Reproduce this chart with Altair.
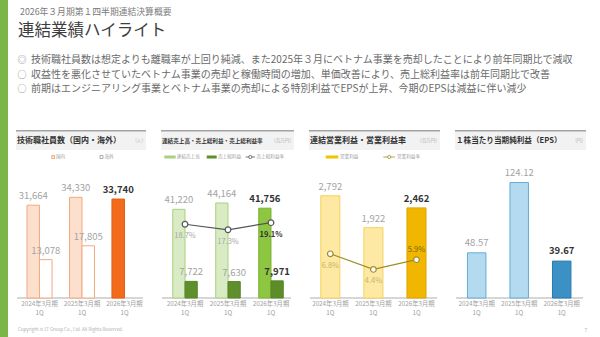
import altair as alt
import pandas as pd

FONT = "Noto Sans CJK JP"

# ---------------- data ----------------
years = ["2024年3月期\n1Q", "2025年3月期\n1Q", "2026年3月期\n1Q"]
periods = ["past", "past", "cur"]
domestic = [31664, 34330, 33740]
overseas = [13078, 17805, None]
sales = [41220, 44164, 41756]
gross_profit = [7722, 7630, 7971]
gross_margin = [18.7, 17.3, 19.1]
op_income = [2792, 1922, 2462]
op_margin = [6.8, 4.4, 5.9]
eps = [48.57, 124.12, 39.67]

header_sub = "2026年３月期第１四半期連結決算概要"
header_title = "連結業績ハイライト"
bullet_marks = ["◎", "○", "○"]
bullet_texts = [
    "技術職社員数は想定よりも離職率が上回り純減、また2025年３月にベトナム事業を売却したことにより前年同期比で減収",
    "収益性を悪化させていたベトナム事業の売却と稼働時間の増加、単価改善により、売上総利益率は前年同期比で改善",
    "前期はエンジニアリング事業とベトナム事業の売却による特別利益でEPSが上昇、今期のEPSは減益に伴い減少",
]
panel_titles = ["技術職社員数（国内・海外）", "連結売上高・売上総利益・売上総利益率",
                "連結営業利益・営業利益率", "１株当たり当期純利益（EPS）"]
panel_units = ["(人)", "(百万円)", "(百万円)", "(円)"]
seg1 = ["国内", "海外"]
seg2 = ["連結売上高", "売上総利益"]
line2_name = "売上総利益率"
seg3 = "営業利益"
line3_name = "営業利益率"
copyright_text = "Copyright © LT Group Co., Ltd. All Rights Reserved."
page_no = "7"

# ---------------- layout ----------------
H = 168
W = [130, 133, 131, 131]
X_RANGES = [(11, 121, 0.41), (11.75, 122.25, 0.43), (11.8, 117.0, 0.558), (12.45, 115.95, 0.565)]
TITLE_SIZES = [8, 5.6, 8, 7.6]

one = pd.DataFrame({"k": [0]})


def txt(s, x, y, size, color, weight="normal", align="left", baseline="middle"):
    return alt.Chart(one).mark_text(
        text=s, fontSize=size, color=color, fontWeight=weight, align=align,
        baseline=baseline, font=FONT
    ).encode(x=alt.value(x), y=alt.value(y))


def box(x, x2, y, y2, fill, stroke=None, sw=0):
    return alt.Chart(one).mark_rect(fill=fill, stroke=stroke or fill, strokeWidth=sw).encode(
        x=alt.value(x), x2=alt.value(x2), y=alt.value(y), y2=alt.value(y2))


def hline(x, x2, y, color, sw):
    return alt.Chart(one).mark_rule(color=color, strokeWidth=sw).encode(
        x=alt.value(x), x2=alt.value(x2), y=alt.value(y))


def dot(x, y, stroke, size=10):
    return alt.Chart(one).mark_point(filled=True, fill="white", stroke=stroke, strokeWidth=0.8,
                                     size=size, opacity=1, shape="circle").encode(
        x=alt.value(x), y=alt.value(y))


def xaxis():
    return alt.Axis(title=None, labelExpr="split(datum.value, '\\n')", labelFontSize=6.3,
                    labelColor="#a0a0a0", labelFont=FONT, ticks=False, domain=False,
                    labelPadding=2, labelLineHeight=9.4, labelAngle=0)


def band_width(i):
    r0, r1, p = X_RANGES[i]
    step = (r1 - r0) / (3 - p)
    return step * (1 - p)


def xenc(i):
    r0, r1, p = X_RANGES[i]
    return alt.X("year:N", scale=alt.Scale(domain=years, range=[r0, r1], paddingInner=p,
                                           paddingOuter=0), axis=xaxis())


def xoff(i, dom):
    return alt.XOffset("seg:N", scale=alt.Scale(domain=dom, range=[0, band_width(i)],
                                                paddingInner=0, paddingOuter=0))


def frame(i):
    w = W[i]
    return [
        box(0, w, 1, 20, "#f2f2f2"),
        hline(0, w, 0.75, "#a3a3a3", 1.5),
        txt(panel_titles[i], 1, 10.5, TITLE_SIZES[i], "#333333", weight="bold"),
        txt(panel_units[i], w - 3, 10.5, 4.6, "#b0b0b0", align="right"),
        hline(1, w - 3, H, "#c9c9c9", 1.5),
    ]


PAST_LABEL = dict(color="#a3a3a3", fontSize=9.5, font=FONT)
CUR_LABEL = dict(color="#333333", fontSize=9.5, font=FONT, fontWeight="bold")

# ---------------- panel 1 ----------------
rows = []
for yv, per, d, o in zip(years, periods, domestic, overseas):
    rows.append((yv, per, seg1[0], d))
    if o is not None:
        rows.append((yv, per, seg1[1], o))
df1 = pd.DataFrame(rows, columns=["year", "period", "seg", "value"])
df1["key"] = df1["seg"] + "-" + df1["period"]

k1 = ["国内-past", "海外-past", "国内-cur"]
y1 = alt.Y("value:Q", scale=alt.Scale(domain=[0, 57300], nice=False), axis=None)
xo1 = xoff(0, seg1)
bars1 = alt.Chart(df1).mark_bar(strokeWidth=1).encode(
    x=xenc(0), xOffset=xo1, y=y1,
    fill=alt.Fill("key:N", scale=alt.Scale(domain=k1, range=["#fcdfcd", "#ffffff", "#f26b1d"]), legend=None),
    stroke=alt.Stroke("key:N", scale=alt.Scale(domain=k1, range=["#f2a97e", "#f2a97e", "#e55d12"]), legend=None),
)
lab1_base = alt.Chart(df1).encode(x=xenc(0), xOffset=xo1, y=y1, text=alt.Text("value:Q", format=","))
lab1 = alt.layer(
    lab1_base.transform_filter("datum.period == 'past'").mark_text(dy=-4, baseline="bottom", **PAST_LABEL),
    lab1_base.transform_filter("datum.period == 'cur'").mark_text(dy=-4, baseline="bottom", **CUR_LABEL),
)
leg1 = [
    box(35.7, 38.7, 25.5, 28.5, "#fcdfcd", "#f0a070", 0.8), txt(seg1[0], 40, 27, 4.6, "#a0a0a0"),
    box(84, 87, 25.5, 28.5, "#ffffff", "#999999", 0.8), txt(seg1[1], 88.5, 27, 4.6, "#a0a0a0"),
]
p1 = alt.layer(*frame(0), *leg1, bars1, lab1).properties(width=W[0], height=H)

# ---------------- panel 2 ----------------
rows = []
for yv, per, s, g in zip(years, periods, sales, gross_profit):
    rows.append((yv, per, seg2[0], s))
    rows.append((yv, per, seg2[1], g))
df2 = pd.DataFrame(rows, columns=["year", "period", "seg", "value"])
df2["key"] = df2["seg"] + "-" + df2["period"]
k2 = ["連結売上高-past", "連結売上高-cur", "売上総利益-past", "売上総利益-cur"]
y2 = alt.Y("value:Q", scale=alt.Scale(domain=[0, 78100], nice=False), axis=None)
xo2 = xoff(1, seg2)
bars2 = alt.Chart(df2).mark_bar(strokeWidth=1).encode(
    x=xenc(1), xOffset=xo2, y=y2,
    fill=alt.Fill("key:N", scale=alt.Scale(domain=k2, range=["#d9ebc5", "#8dc640", "#5f8f2c", "#5c8d28"]), legend=None),
    stroke=alt.Stroke("key:N", scale=alt.Scale(domain=k2, range=["#a9d07c", "#7cb334", "#578527", "#578527"]), legend=None),
)
lab2_base = alt.Chart(df2).encode(x=xenc(1), xOffset=xo2, y=y2, text=alt.Text("value:Q", format=","))
lab2 = alt.layer(
    lab2_base.transform_filter("datum.period == 'past'").mark_text(dy=-4, baseline="bottom", **PAST_LABEL),
    lab2_base.transform_filter("datum.period == 'cur'").mark_text(dy=-4, baseline="bottom", **CUR_LABEL),
)
dfl2 = pd.DataFrame({"year": years, "period": periods, "m": gross_margin})
ym2 = alt.Y("m:Q", scale=alt.Scale(domain=[0, 42.6], nice=False), axis=None)
line2 = alt.Chart(dfl2).mark_line(color="#555555", strokeWidth=1.2).encode(x=xenc(1), y=ym2)
pts2 = alt.Chart(dfl2).mark_point(filled=True, fill="white", stroke="#555555", strokeWidth=1.2,
                                  size=32, opacity=1).encode(x=xenc(1), y=ym2)
pl2_base = alt.Chart(dfl2).transform_calculate(lbl="format(datum.m, '.1f') + '%'").encode(
    x=xenc(1), y=ym2, text="lbl:N")
plab2 = alt.layer(
    pl2_base.transform_filter("datum.period == 'past'").mark_text(dy=12, baseline="middle", color="#a8a8a8", fontSize=7.5, font=FONT),
    pl2_base.transform_filter("datum.period == 'cur'").mark_text(dy=12, baseline="middle", color="#333333", fontSize=7.5, font=FONT, fontWeight="bold"),
)
leg2 = [
    box(3.3, 14.7, 25.5, 28.5, "#a9d07c"), txt(seg2[0], 15.8, 27, 4.6, "#a0a0a0"),
    box(45.7, 55.7, 25.5, 28.5, "#5f8f2c"), txt(seg2[1], 57, 27, 4.6, "#a0a0a0"),
    hline(84.7, 94, 27, "#555555", 0.8), dot(89.3, 27, "#555555"), txt(line2_name, 95.5, 27, 4.6, "#a0a0a0"),
]
p2 = alt.layer(*frame(1), *leg2, alt.layer(bars2, lab2), alt.layer(line2, pts2, plab2)).resolve_scale(
    y="independent").properties(width=W[1], height=H)

# ---------------- panel 3 ----------------
df3 = pd.DataFrame({"year": years, "period": periods, "value": op_income, "m": op_margin})
y3 = alt.Y("value:Q", scale=alt.Scale(domain=[0, 4590], nice=False), axis=None)
bars3 = alt.Chart(df3).mark_bar(strokeWidth=1).encode(
    x=xenc(2), y=y3,
    fill=alt.Fill("period:N", scale=alt.Scale(domain=["past", "cur"], range=["#fde9a3", "#f1b700"]), legend=None),
    stroke=alt.Stroke("period:N", scale=alt.Scale(domain=["past", "cur"], range=["#f6d35a", "#dca400"]), legend=None),
)
lab3_base = alt.Chart(df3).encode(x=xenc(2), y=y3, text=alt.Text("value:Q", format=","))
lab3 = alt.layer(
    lab3_base.transform_filter("datum.period == 'past'").mark_text(dy=-4, baseline="bottom", **PAST_LABEL),
    lab3_base.transform_filter("datum.period == 'cur'").mark_text(dy=-4, baseline="bottom", **CUR_LABEL),
)
ym3 = alt.Y("m:Q", scale=alt.Scale(domain=[0, 25.85], nice=False), axis=None)
line3 = alt.Chart(df3).mark_line(color="#a08b25", strokeWidth=1.2).encode(x=xenc(2), y=ym3)
pts3 = alt.Chart(df3).mark_point(filled=True, fill="white", stroke="#a08b25", strokeWidth=1.2,
                                 size=32, opacity=1).encode(x=xenc(2), y=ym3)
pl3_base = alt.Chart(df3).transform_calculate(lbl="format(datum.m, '.1f') + '%'").encode(
    x=xenc(2), y=ym3, text="lbl:N")
plab3 = alt.layer(
    pl3_base.transform_filter("datum.period == 'past'").mark_text(dy=12, baseline="middle", color="#c9b463", fontSize=7.5, font=FONT),
    pl3_base.transform_filter("datum.period == 'cur'").mark_text(dy=-10, baseline="middle", color="#7a6400", fontSize=7.5, font=FONT),
)
leg3 = [
    box(16.7, 29.3, 25.5, 28.5, "#f1c400"), txt(seg3, 31, 27, 4.6, "#a0a0a0"),
    hline(74.3, 86, 27, "#a08b25", 0.8), dot(80.2, 27, "#a08b25"), txt(line3_name, 88, 27, 4.6, "#a0a0a0"),
]
p3 = alt.layer(*frame(2), *leg3, alt.layer(bars3, lab3), alt.layer(line3, pts3, plab3)).resolve_scale(
    y="independent").properties(width=W[2], height=H)

# ---------------- panel 4 ----------------
df4 = pd.DataFrame({"year": years, "period": periods, "value": eps})
y4 = alt.Y("value:Q", scale=alt.Scale(domain=[0, 180.6], nice=False), axis=None)
bars4 = alt.Chart(df4).mark_bar(strokeWidth=1).encode(
    x=xenc(3), y=y4,
    fill=alt.Fill("period:N", scale=alt.Scale(domain=["past", "cur"], range=["#b4daf0", "#3b91c6"]), legend=None),
    stroke=alt.Stroke("period:N", scale=alt.Scale(domain=["past", "cur"], range=["#62acd6", "#2a79ab"]), legend=None),
)
lab4_base = alt.Chart(df4).encode(x=xenc(3), y=y4, text=alt.Text("value:Q", format=".2f"))
lab4 = alt.layer(
    lab4_base.transform_filter("datum.period == 'past'").mark_text(dy=-5, baseline="bottom", **PAST_LABEL),
    lab4_base.transform_filter("datum.period == 'cur'").mark_text(dy=-5, baseline="bottom", **CUR_LABEL),
)
p4 = alt.layer(*frame(3), bars4, lab4).properties(width=W[3], height=H)

# ---------------- header ----------------
hdr = [
    box(-16, -8, 0, 337, "#7ab648"),
    txt(header_sub, 4, 12, 8.8, "#7a7a7a"),
    txt(header_title, 2, 30.5, 16.5, "#3d3d3d"),
]
for i, (bm, bt) in enumerate(zip(bullet_marks, bullet_texts)):
    yy = 60 + 14.5 * i
    hdr.append(txt(bm, 6, yy, 9, "#8a8a8a", align="center"))
    hdr.append(txt(bt, 15, yy, 10, "#6a6a6a"))
hdr.append(txt(copyright_text, 2, 330, 4.5, "#b0b0b0"))
hdr.append(txt(page_no, 570, 329.5, 5, "#b0b0b0", align="center"))
header = alt.layer(*hdr).properties(width=584, height=125)

row = alt.hconcat(p1, p2, p3, p4, spacing=15, bounds="flush").resolve_scale(
    fill="independent", stroke="independent", x="independent", y="independent",
    xOffset="independent")
chart = alt.vconcat(header, row, spacing=5, bounds="flush").properties(
    padding=0, autosize=alt.AutoSizeParams(type="pad"), background="white"
).configure_view(stroke=None)

chart.save("out.html", embed_options={"renderer": "svg", "actions": False})
